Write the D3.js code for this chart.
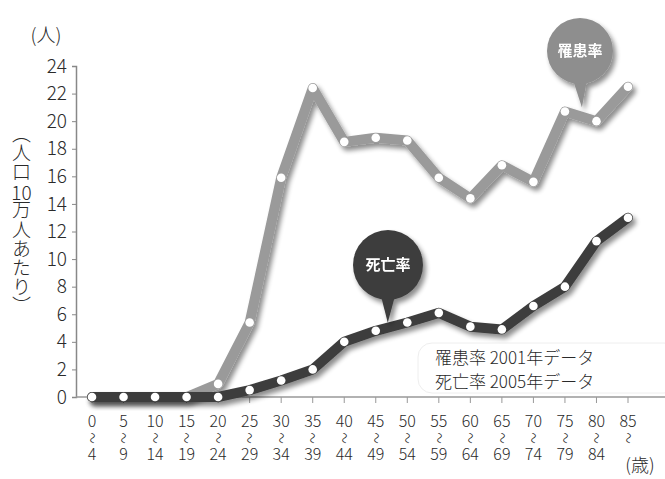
<!DOCTYPE html>
<html>
<head>
<meta charset="utf-8">
<title>罹患率・死亡率</title>
<script src="https://d3js.org/d3.v7.min.js"></script>
<style>
	body{ margin:0; background:#fff; position:relative; }
	text{ font-family:"Noto Sans CJK JP","Noto Sans",sans-serif; fill:#2a2a2a; font-weight:300; }
	.ytitle{ position:absolute; left:11px; top:124px; writing-mode:vertical-rl; font-family:"Noto Sans CJK JP",sans-serif;
		font-weight:300; font-size:19px; line-height:20px; color:#2a2a2a; letter-spacing:0.2px; }
	.ytitle span{ text-combine-upright:all; }
</style>
</head>
<body>
<script>
	// 年齢階級
	var ageFrom = ["0","5","10","15","20","25","30","35","40","45","50","55","60","65","70","75","80","85"]
	var ageTo   = ["4","9","14","19","24","29","34","39","44","49","54","59","64","69","74","79","84",""]
	// 人口10万人あたり
	var incidence = [0,0,0,0,0.95,5.4,15.9,22.4,18.5,18.8,18.6,15.9,14.4,16.8,15.6,20.7,20.0,22.5]
	var mortality = [0,0,0,0,0,0.5,1.2,2.0,4.0,4.8,5.4,6.1,5.1,4.9,6.6,8.0,11.3,13.0]
	var yTicks = [0,2,4,6,8,10,12,14,16,18,20,22,24]
	var legendLines = ["罹患率 2001年データ","死亡率 2005年データ"]

	var W = 665, H = 479
	var svg = d3.select("body").append("svg").attr("width",W).attr("height",H).style("display","block")

	var defs = svg.append("defs")
	var f = defs.append("filter").attr("id","shadow").attr("x","-20%").attr("y","-20%").attr("width","140%").attr("height","140%")
	f.append("feGaussianBlur").attr("in","SourceAlpha").attr("stdDeviation",2.5).attr("result","b")
	f.append("feOffset").attr("in","b").attr("dx",3).attr("dy",4).attr("result","o")
	f.append("feComponentTransfer").attr("in","o").attr("result","s")
		.append("feFuncA").attr("type","linear").attr("slope",0.45)
	var m = f.append("feMerge")
	m.append("feMergeNode").attr("in","s")
	m.append("feMergeNode").attr("in","SourceGraphic")

	var x = d3.scalePoint().domain(d3.range(ageFrom.length)).range([92,628])
	var y = d3.scaleLinear().domain([0,24]).range([397,66])

	// axes
	var yAxis = svg.append("g").attr("transform","translate(76,0)")
		.call(d3.axisLeft(y).tickValues(yTicks).tickSize(4).tickPadding(5))
	yAxis.select(".domain").attr("stroke","#888").attr("stroke-width",1.5)
	yAxis.selectAll(".tick line").attr("stroke","#888")
	yAxis.selectAll(".tick text").attr("font-size",19).attr("fill","#2a2a2a")
		.style("font-family",'"Noto Sans CJK JP",sans-serif').style("font-weight",300)

	svg.append("line").attr("x1",76).attr("x2",W).attr("y1",y(0)).attr("y2",y(0))
		.attr("stroke","#999").attr("stroke-width",1.5)
	var xt = svg.append("g").selectAll("g").data(ageFrom).join("g")
		.attr("transform",function(d,i){ return "translate("+x(i)+",0)" })
	xt.append("line").attr("y1",y(0)).attr("y2",y(0)+6).attr("stroke","#999")
	xt.append("text").attr("y",427).attr("text-anchor","middle").attr("font-size",16).text(function(d){ return d })
	xt.append("text").attr("text-anchor","middle").attr("font-size",15)
		.attr("transform","translate(0,438) rotate(90) scale(0.75,1)").attr("dy","0.35em").text("〜")
	xt.append("text").attr("y",460).attr("text-anchor","middle").attr("font-size",16).text(function(d,i){ return ageTo[i] })

	svg.append("text").attr("x",640).attr("y",472).attr("text-anchor","middle").attr("font-size",18).text("(歳)")
	svg.append("text").attr("x",46).attr("y",42).attr("text-anchor","middle").attr("font-size",19).text("(人)")

	// vertical title
	d3.select("body").append("div").attr("class","ytitle")
		.html("（人口<span>10</span>万人あたり）")

	// legend
	svg.append("rect").attr("x",418).attr("y",343).attr("width",260).attr("height",50).attr("rx",14)
		.attr("fill","#fff").attr("stroke","#eee")
	svg.append("g").selectAll("text").data(legendLines).join("text")
		.attr("x",435).attr("y",function(d,i){ return 364 + i*24 }).attr("font-size",17).text(function(d){ return d })

	var line = d3.line().x(function(d,i){ return x(i) }).y(function(d){ return y(d) })

	function series(data, color){
		var g = svg.append("g")
		g.append("path").datum(data).attr("d",line).attr("fill","none").attr("stroke",color)
			.attr("stroke-width",10).attr("stroke-linejoin","round").attr("stroke-linecap","round")
			.attr("filter","url(#shadow)")
		g.selectAll("circle").data(data).join("circle")
			.attr("cx",function(d,i){ return x(i) }).attr("cy",function(d){ return y(d) })
			.attr("r",4.3).attr("fill","#fff")
	}
	series(incidence,"#9a9a9a")
	series(mortality,"#3d3d3d")

	// callouts
	function bubble(cx, cy, r, tipX, tipY, color, label){
		var g = svg.append("g").attr("filter","url(#shadow)")
		g.append("path").attr("d","M"+(cx-7)+","+(cy+r-4)+" L"+tipX+","+tipY+" L"+(cx+7)+","+(cy+r-4)+"Z").attr("fill",color)
		g.append("circle").attr("cx",cx).attr("cy",cy).attr("r",r).attr("fill",color)
		g.append("text").attr("x",cx).attr("y",cy).attr("dy","0.35em").attr("text-anchor","middle")
			.attr("font-size",15).style("font-weight","bold").style("fill","#fff").text(label)
	}
	bubble(388,265,35,x(9)+12,y(mortality[9])-8,"#3d3d3d","死亡率")
	bubble(580,51,33,x(15)+17,y(incidence[15])-4,"#8e8e8e","罹患率")
</script>
</body>
</html>
